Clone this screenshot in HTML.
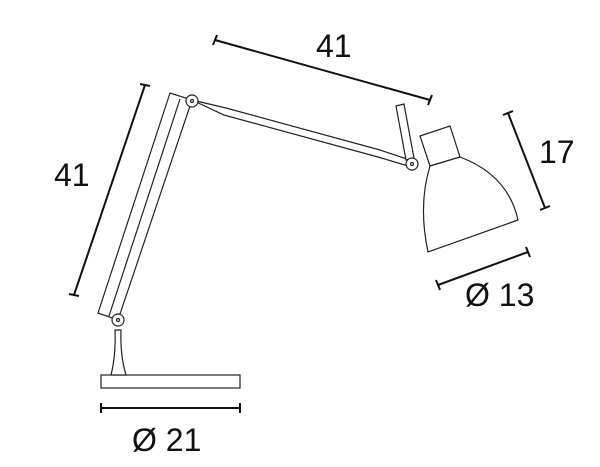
<html><body style="margin:0;background:#fff">
<svg width="600" height="467" xmlns="http://www.w3.org/2000/svg" style="display:block">
<g stroke="#111" stroke-width="2" fill="none">
<line x1="215" y1="40" x2="430" y2="100"/><line x1="213" y1="45" x2="217" y2="35"/><line x1="428" y1="105" x2="432" y2="95"/>
<line x1="145" y1="85" x2="74" y2="295"/><line x1="140" y1="84" x2="150" y2="86"/><line x1="69" y1="294" x2="79" y2="296"/>
<line x1="508" y1="113" x2="545" y2="208"/><line x1="503" y1="115" x2="513" y2="111"/><line x1="540" y1="210" x2="550" y2="206"/>
<line x1="438" y1="285" x2="528" y2="252"/><line x1="436" y1="280" x2="440" y2="290"/><line x1="526" y1="247" x2="530" y2="257"/>
<line x1="101" y1="408" x2="240" y2="408"/><line x1="101" y1="403" x2="101" y2="413"/><line x1="240" y1="403" x2="240" y2="413"/>
</g>
<g stroke="#222" stroke-width="1.2" fill="#fff">
<rect x="101" y="375" width="139" height="13"/>
<path d="M111 375 Q116 355 115 330 L121 330 Q120 355 126 375 Z"/>
<path d="M170 93 L98 313 L118 320 L192 100 Z"/>
<line x1="180" y1="99" x2="109" y2="316"/>
<path d="M192 100 L226 108 L380 150 L410 160 L408 166 L378 157 L224 115 Z"/>
<path d="M396 106 L404 104 L414 158 L406 160 Z"/>
<path d="M420 136 L450 126 L460 157 L430 166 Z"/>
<path d="M430 166 L460 157 Q508 175 518 220 L428 252 Q418 205 430 166 Z"/>
<circle cx="192" cy="101" r="6"/><circle cx="192" cy="101" r="1.5"/>
<circle cx="118" cy="320" r="6"/><circle cx="118" cy="320" r="1.5"/>
<circle cx="412" cy="164" r="6"/><circle cx="412" cy="164" r="1.5"/>
</g>
<g font-family="Liberation Sans, sans-serif" font-size="32" fill="#111">
<text x="316" y="57">41</text>
<text x="54" y="186">41</text>
<text x="539" y="163">17</text>
<text x="465" y="306">Ø 13</text>
<text x="132" y="451">Ø 21</text>
</g>
</svg>
</body></html>
